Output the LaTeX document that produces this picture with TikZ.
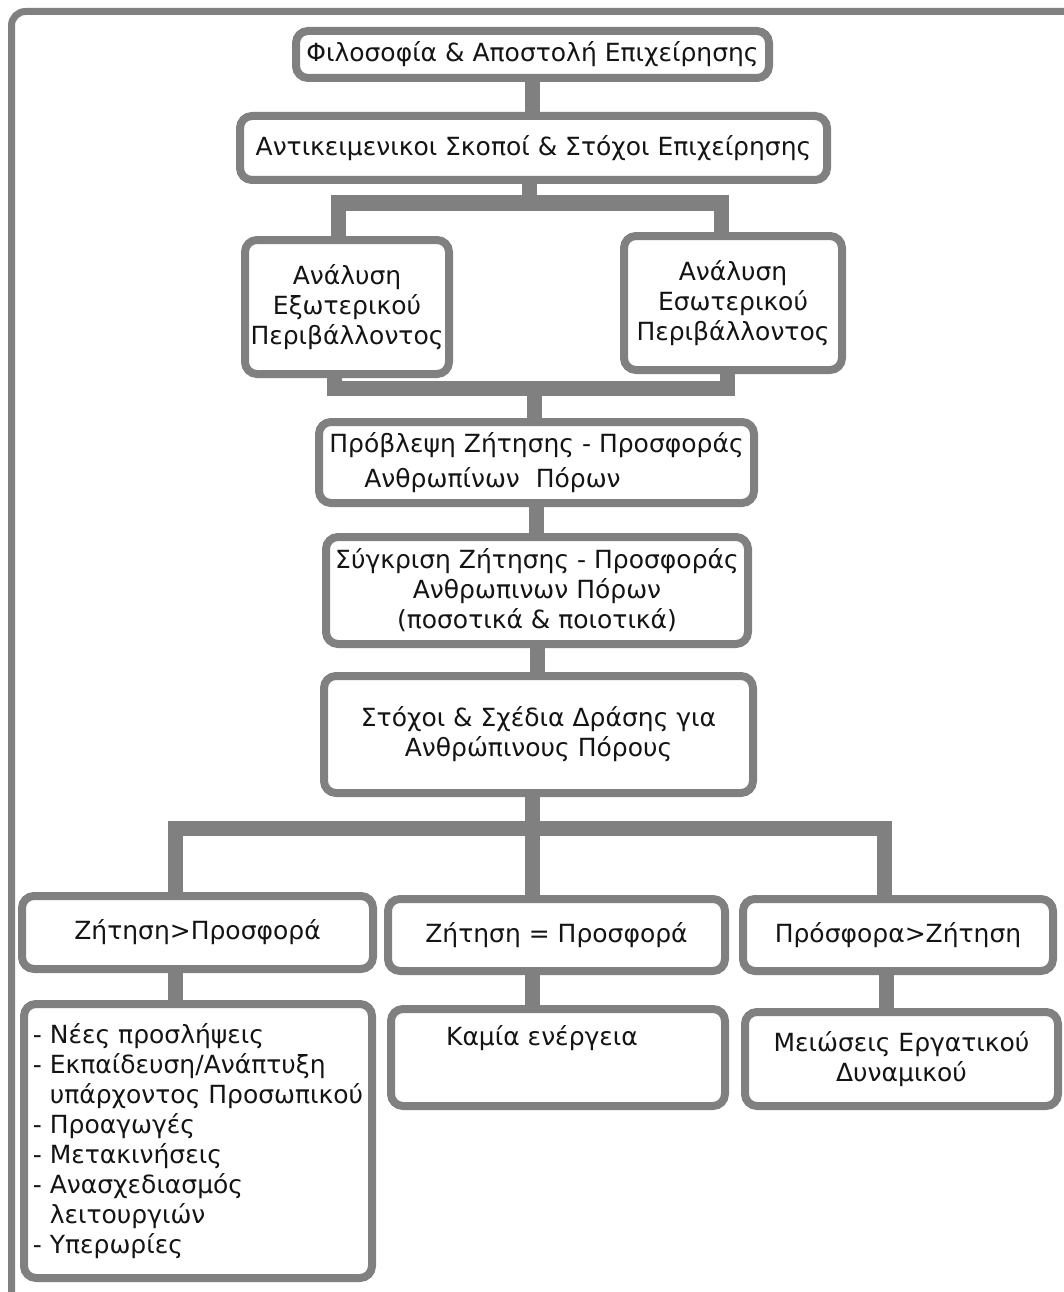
\documentclass[tikz,border=0pt]{standalone}
\usepackage{fontspec}
\setmainfont{DejaVu Sans}
\usepackage{tikz}
\usetikzlibrary{calc}
\definecolor{boxgray}{RGB}{128,128,128}
\definecolor{inkblack}{RGB}{20,20,20}

\begin{document}
\begin{tikzpicture}[x=1pt, y=-1pt,
    box/.style={draw=boxgray, line width=8pt, rounded corners=12pt, fill=white,
        inner sep=0pt, align=center, text=inkblack,
        font=\fontsize{25}{30}\selectfont},
    link/.style={draw=boxgray, line width=15pt}]
    \useasboundingbox (0,0) rectangle (1064,1292);

    % outer frame, cut at right and bottom
    \begin{scope}
        \clip (0,0) rectangle (1064,1292);
        \draw[boxgray, line width=7pt, rounded corners=14pt] (11.5,11.5) rectangle (1090,1310);
    \end{scope}

    % Company level
    \node[box, minimum width=473pt, minimum height=47pt] (phil) at (532.5,54.5)
        {Φιλοσοφία \& Αποστολή Επιχείρησης};
    \node[box, minimum width=587pt, minimum height=64pt] (obj) at (533.5,148)
        {Αντικειμενικοι Σκοποί \& Στόχοι Επιχείρησης};

    % Analysis
    \node[box, minimum width=204pt, minimum height=134pt] (ext) at (347,307)
        {Ανάλυση\\Εξωτερικού\\Περιβάλλοντος};
    \node[box, minimum width=218pt, minimum height=134pt] (int) at (733,303)
        {Ανάλυση\\Εσωτερικού\\Περιβάλλοντος};

    % Forecast, comparison, plans
    \node[box, minimum width=435pt, minimum height=81pt, align=left,
        font=\fontsize{25}{35}\selectfont] (fore) at (536.5,462.5)
        {Πρόβλεψη Ζήτησης - Προσφοράς\\\hspace*{35pt}Ανθρωπίνων\ \ Πόρων};
    \node[box, minimum width=422pt, minimum height=107pt] (comp) at (537,590.5)
        {Σύγκριση Ζήτησης - Προσφοράς\\Ανθρωπινων Πόρων\\(ποσοτικά \& ποιοτικά)};
    \node[box, minimum width=429pt, minimum height=117pt] (goal) at (538.5,734.5)
        {Στόχοι \& Σχέδια Δράσης για\\Ανθρώπινους Πόρους};

    % Three cases
    \node[box, minimum width=351pt, minimum height=73pt] (gt) at (197.5,932.5)
        {Ζήτηση>Προσφορά};
    \node[box, minimum width=337pt, minimum height=72pt] (eq) at (556.5,935)
        {Ζήτηση = Προσφορά};
    \node[box, minimum width=310pt, minimum height=72pt] (lt) at (898,935)
        {Πρόσφορα>Ζήτηση};

    % Actions
    \node[box, minimum width=348pt, minimum height=274pt, align=left] (list) at (198,1141)
        {- Νέες προσλήψεις\\- Εκπαίδευση/Ανάπτυξη\\\phantom{- }υπάρχοντος Προσωπικού\\- Προαγωγές\\- Μετακινήσεις\\- Ανασχεδιασμός\\\phantom{- }λειτουργιών\\- Υπερωρίες};
    \node[box, minimum width=334pt, minimum height=97pt, text height=20pt, text depth=44pt] (none) at (558,1057.5)
        {Καμία ενέργεια\hspace*{32pt}};
    \node[box, minimum width=313pt, minimum height=94pt] (cut) at (901.5,1059)
        {Μειώσεις Εργατικού\\Δυναμικού};

    % Connectors
    \coordinate (split1) at (530,203);
    \coordinate (join1) at (534,388);
    \coordinate (split2) at (532.5,828);
    \draw[link] (phil.south) -- (phil.south |- obj.north);
    \draw[link] ([xshift=-4pt]obj.south) -- ([xshift=-4pt]obj.south |- split1);
    \draw[link] ([xshift=-9pt]ext.north) |- (split1) -| ([xshift=-12pt]int.north);
    \draw[link] ([xshift=-13pt]ext.south) |- (join1) -| ([xshift=-6pt]int.south);
    \draw[link] (join1) -- (join1 |- fore.north);
    \draw[link] (fore.south) -- (fore.south |- comp.north);
    \draw[link] (comp.south) -- (comp.south |- goal.north);
    \draw[link] ([xshift=-6pt]goal.south) -- ([xshift=-6pt]goal.south |- eq.north);
    \draw[link] ([xshift=-22pt]gt.north) |- (split2) -| ([xshift=-14pt]lt.north);
    \draw[link] ([xshift=-22pt]gt.south) -- ([xshift=-22pt]gt.south |- list.north);
    \draw[link] ([xshift=-24pt]eq.south) -- ([xshift=-24pt]eq.south |- none.north);
    \draw[link] ([xshift=-12pt]lt.south) -- ([xshift=-12pt]lt.south |- cut.north);
\end{tikzpicture}
\end{document}
